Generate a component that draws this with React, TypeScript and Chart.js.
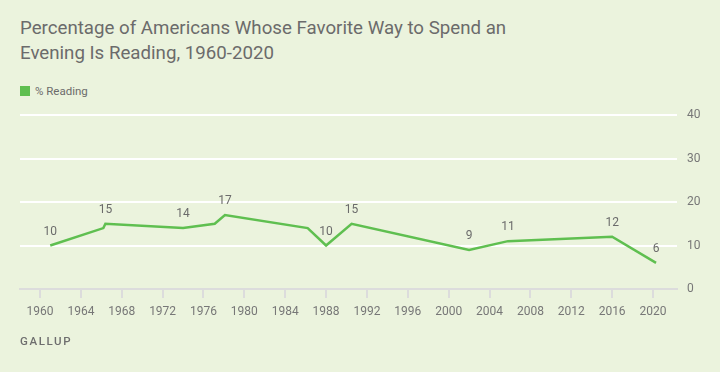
import React, { useEffect, useRef } from "react";
import { Chart, registerables } from "chart.js";

Chart.register(...registerables);

// Data
const years = [1961, 1966.2, 1966.4, 1974, 1977.1, 1978.1, 1986.2, 1988, 1990.5, 2002, 2005.8, 2016, 2020.3];
const reading = [10, 14, 15, 14, 15, 17, 14, 10, 15, 9, 11, 12, 6];
const pointLabels = ["10", "", "15", "14", "", "17", "", "10", "15", "9", "11", "12", "6"];
const xTicks = [1960, 1964, 1968, 1972, 1976, 1980, 1984, 1988, 1992, 1996, 2000, 2004, 2008, 2012, 2016, 2020];
const yTicks = [0, 10, 20, 30, 40];

const seriesName = "% Reading";
const titleLines = [
  "Percentage of Americans Whose Favorite Way to Spend an",
  "Evening Is Reading, 1960-2020",
];
const sourceText = "GALLUP";

const BG = "#EBF3DD";
const GREEN = "#5FBF50";
const TEXT = "#6B6B6B";
const FONT = "Roboto, 'Noto Sans', Arial, sans-serif";

const labelPlugin = {
  id: "pointValueLabels",
  afterDatasetsDraw(chart: any) {
    const ctx = chart.ctx;
    const meta = chart.getDatasetMeta(0);
    ctx.save();
    ctx.font = `12px ${FONT}`;
    ctx.fillStyle = TEXT;
    ctx.textAlign = "center";
    ctx.textBaseline = "middle";
    meta.data.forEach((pt: any, i: number) => {
      const t = pointLabels[i];
      if (!t) return;
      ctx.fillText(t, pt.x, pt.y - 14);
    });
    ctx.restore();
  },
};

export default function App() {
  const ref = useRef<HTMLCanvasElement | null>(null);

  useEffect(() => {
    document.body.style.margin = "0";
    if (!ref.current) return;
    const chart = new Chart(ref.current, {
      type: "line",
      data: {
        datasets: [
          {
            label: seriesName,
            data: years.map((y, i) => ({ x: y, y: reading[i] })),
            borderColor: GREEN,
            backgroundColor: GREEN,
            borderWidth: 2.5,
            pointRadius: 0,
            tension: 0,
            fill: false,
          },
        ],
      },
      options: {
        responsive: false,
        animation: false,
        layout: { padding: { left: 20, top: 115, right: 0, bottom: 0 } },
        plugins: {
          legend: { display: false },
          title: { display: false },
          tooltip: { enabled: false },
        },
        scales: {
          x: {
            type: "linear",
            min: 1958.04,
            max: 2022.35,
            afterBuildTicks: (scale: any) => {
              scale.ticks = xTicks.map((v) => ({ value: v }));
            },
            afterFit: (scale: any) => {
              scale.height = 83;
            },
            grid: {
              display: true,
              drawOnChartArea: false,
              drawTicks: true,
              tickLength: 9,
              color: "#DCDCDC",
              lineWidth: 2,
            },
            border: { display: true, color: "#DCDCDC", width: 2 },
            ticks: {
              autoSkip: false,
              maxRotation: 0,
              padding: 7,
              color: "#777777",
              font: { family: FONT, size: 12 },
              callback: (v: any) => String(v),
            },
          },
          y: {
            position: "right",
            min: 0,
            max: 40,
            afterBuildTicks: (scale: any) => {
              scale.ticks = yTicks.map((v) => ({ value: v }));
            },
            afterFit: (scale: any) => {
              scale.width = 43;
            },
            grid: {
              drawTicks: false,
              color: (c: any) => (c.tick && c.tick.value === 0 ? "rgba(0,0,0,0)" : "#FFFFFF"),
              lineWidth: 2,
            },
            border: { display: false },
            ticks: {
              padding: 10,
              color: "#777777",
              font: { family: FONT, size: 12 },
              callback: (v: any) => String(v),
            },
          },
        },
      },
      plugins: [labelPlugin],
    });
    return () => chart.destroy();
  }, []);

  return (
    <div
      style={{
        position: "absolute",
        left: 0,
        top: 0,
        width: 720,
        height: 372,
        background: BG,
        fontFamily: FONT,
        overflow: "hidden",
      }}
    >
      <div
        style={{
          position: "absolute",
          left: 20,
          top: 16,
          fontSize: 18.7,
          lineHeight: "24.5px",
          color: TEXT,
          whiteSpace: "nowrap",
        }}
      >
        {titleLines.map((l, i) => (
          <div key={i}>{l}</div>
        ))}
      </div>
      <div style={{ position: "absolute", left: 20, top: 86, width: 10, height: 10, background: GREEN }} />
      <div
        style={{
          position: "absolute",
          left: 35,
          top: 83,
          fontSize: 11.5,
          lineHeight: "16px",
          color: TEXT,
          whiteSpace: "nowrap",
        }}
      >
        {seriesName}
      </div>
      <canvas ref={ref} width={720} height={372} style={{ position: "absolute", left: 0, top: 0 }} />
      <div
        style={{
          position: "absolute",
          left: 20,
          top: 333,
          fontSize: 11.5,
          lineHeight: "16px",
          fontWeight: 500,
          letterSpacing: "1.6px",
          color: "#6E6E6E",
        }}
      >
        {sourceText}
      </div>
    </div>
  );
}
